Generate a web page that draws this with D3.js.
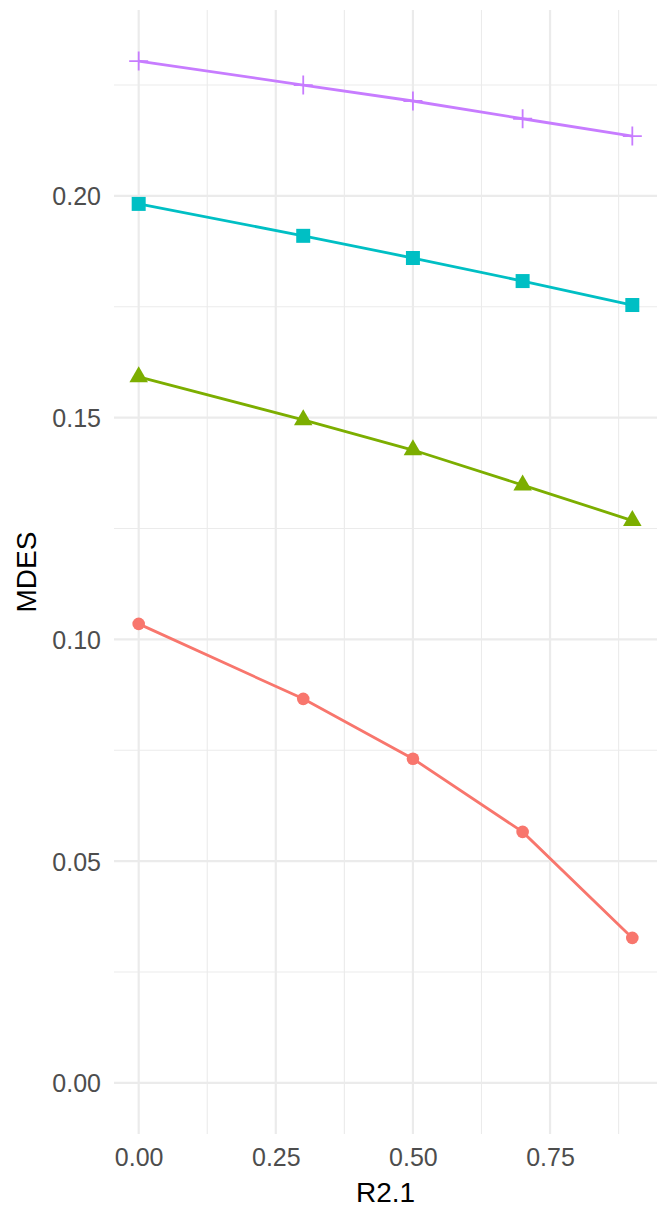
<!DOCTYPE html>
<html><head><meta charset="utf-8">
<script src="https://cdn.jsdelivr.net/npm/d3@7"></script>
<style>body{margin:0;background:#fff}svg{display:block}text{font-family:"Liberation Sans",Arial,sans-serif}</style>
</head><body>
<svg id="c" width="665" height="1209"></svg>
<script>
const r2 = [0, 0.3, 0.5, 0.7, 0.9];
const seriesA = [0.1035, 0.0866, 0.0731, 0.0566, 0.0327];
const seriesB = [0.1592, 0.1495, 0.1427, 0.1348, 0.1268];
const seriesC = [0.1982, 0.1910, 0.1860, 0.1808, 0.1754];
const seriesD = [0.2304, 0.2250, 0.2214, 0.2174, 0.2135];
const seriesNames = ["A", "B", "C", "D"];
const seriesColors = ["#F8766D", "#7CAE00", "#00BFC4", "#C77CFF"];
const seriesShapes = ["circle", "triangle", "square", "plus"];
const xTicks = [0, 0.25, 0.5, 0.75];
const xMinor = [0.125, 0.375, 0.625, 0.875];
const yTicks = [0, 0.05, 0.10, 0.15, 0.20];
const yMinor = [0.025, 0.075, 0.125, 0.175, 0.225];

const allSeries = [seriesA, seriesB, seriesC, seriesD];
const svg = d3.select("#c");
const pLeft = 114, pRight = 657, pTop = 10, pBottom = 1134;

const yMax = d3.max(allSeries.flat());
const yPad = (yMax - 0) * 0.05;
const y = d3.scaleLinear().domain([0 - yPad, yMax + yPad]).range([pBottom, pTop]);
const xPad = 0.9 * 0.05;
const x = d3.scaleLinear().domain([0 - xPad, 0.9 + xPad]).range([pLeft, pRight]);

const grid = svg.append("g");
grid.selectAll(".ymin").data(yMinor).enter().append("line")
  .attr("x1", pLeft).attr("x2", pRight).attr("y1", d => y(d)).attr("y2", d => y(d))
  .attr("stroke", "#EBEBEB").attr("stroke-width", 1.1);
grid.selectAll(".xmin").data(xMinor).enter().append("line")
  .attr("y1", pTop).attr("y2", pBottom).attr("x1", d => x(d)).attr("x2", d => x(d))
  .attr("stroke", "#EBEBEB").attr("stroke-width", 1.1);
grid.selectAll(".ymaj").data(yTicks).enter().append("line")
  .attr("x1", pLeft).attr("x2", pRight).attr("y1", d => y(d)).attr("y2", d => y(d))
  .attr("stroke", "#EBEBEB").attr("stroke-width", 2.2);
grid.selectAll(".xmaj").data(xTicks).enter().append("line")
  .attr("y1", pTop).attr("y2", pBottom).attr("x1", d => x(d)).attr("x2", d => x(d))
  .attr("stroke", "#EBEBEB").attr("stroke-width", 2.2);

const xAxis = svg.append("g").attr("transform", `translate(0,${pBottom})`)
  .call(d3.axisBottom(x).tickValues(xTicks).tickFormat(d3.format(".2f")).tickSize(0).tickPadding(30));
const yAxis = svg.append("g").attr("transform", `translate(${pLeft},0)`)
  .call(d3.axisLeft(y).tickValues(yTicks).tickFormat(d3.format(".2f")).tickSize(0).tickPadding(13));
[xAxis, yAxis].forEach(a => {
  a.select(".domain").remove();
  a.selectAll("text").attr("fill", "#4D4D4D").style("font-size", "25px")
   .style("font-family", "'Liberation Sans', Arial, sans-serif");
});
xAxis.selectAll("text").attr("dy", null).attr("y", 32);
yAxis.selectAll("text").attr("dy", "0.36em");

svg.append("text").attr("x", (pLeft + pRight) / 2).attr("y", 1202)
  .attr("text-anchor", "middle").attr("fill", "#000").style("font-size", "28px").text("R2.1");
svg.append("text").attr("transform", `translate(36,${(pTop + pBottom) / 2}) rotate(-90)`)
  .attr("text-anchor", "middle").attr("fill", "#000").style("font-size", "28px").text("MDES");

const line = d3.line().x((d, i) => x(r2[i])).y(d => y(d));
allSeries.forEach((s, k) => {
  svg.append("path").datum(s).attr("d", line).attr("fill", "none")
    .attr("stroke", seriesColors[k]).attr("stroke-width", 2.8);
});
allSeries.forEach((s, k) => {
  const g = svg.append("g");
  s.forEach((v, i) => {
    const cx = x(r2[i]), cy = y(v), col = seriesColors[k];
    const sh = seriesShapes[k];
    if (sh === "circle") g.append("circle").attr("cx", cx).attr("cy", cy).attr("r", 6.3).attr("fill", col);
    else if (sh === "square") g.append("rect").attr("x", cx - 7).attr("y", cy - 7).attr("width", 14).attr("height", 14).attr("fill", col);
    else if (sh === "triangle") {
      const h = 16, w = 18.5;
      g.append("path").attr("d", `M${cx},${cy - h * 2 / 3}L${cx + w / 2},${cy + h / 3}L${cx - w / 2},${cy + h / 3}Z`).attr("fill", col);
    } else {
      g.append("path").attr("d", `M${cx - 9.5},${cy}H${cx + 9.5}M${cx},${cy - 9.5}V${cy + 9.5}`)
        .attr("stroke", col).attr("stroke-width", 1.8).attr("fill", "none");
    }
  });
});
</script>
</body></html>
